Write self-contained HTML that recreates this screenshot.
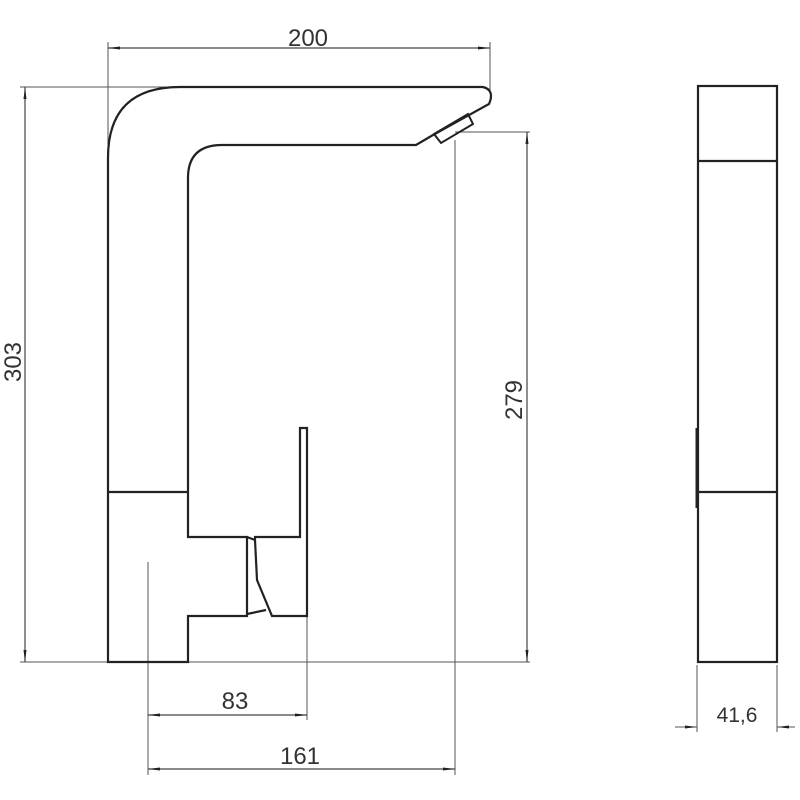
<!DOCTYPE html>
<html><head><meta charset="utf-8"><style>
html,body{margin:0;padding:0;background:#fff;}
svg{display:block;}
text{font-family:"Liberation Sans",sans-serif;font-size:24px;fill:#333;}
</style></head><body>
<svg width="800" height="800" viewBox="0 0 800 800" xmlns="http://www.w3.org/2000/svg">
<defs>
<marker id="a" markerWidth="12" markerHeight="6" refX="12" refY="3" orient="auto" markerUnits="userSpaceOnUse">
<path d="M0,1.5 L12,3 L0,4.5 Z" fill="#222"/></marker>
<marker id="b" markerWidth="12" markerHeight="6" refX="0" refY="3" orient="auto" markerUnits="userSpaceOnUse">
<path d="M12,1.5 L0,3 L12,4.5 Z" fill="#222"/></marker>
</defs>
<g stroke="#555" stroke-width="1" fill="none">
<line x1="108" y1="42" x2="108" y2="160"/>
<line x1="490" y1="42" x2="490" y2="92"/>
<line x1="20" y1="87" x2="180" y2="87"/>
<line x1="20" y1="662" x2="530" y2="662"/>
<line x1="455" y1="132" x2="530" y2="132"/>
<line x1="455" y1="140" x2="455" y2="775"/>
<line x1="148" y1="562" x2="148" y2="775"/>
<line x1="307" y1="616" x2="307" y2="720"/>
<line x1="697" y1="665" x2="697" y2="732"/>
<line x1="777" y1="665" x2="777" y2="732"/>
<line x1="675" y1="727" x2="697" y2="727" marker-end="url(#a)"/>
<line x1="795" y1="727" x2="777" y2="727" marker-end="url(#a)"/>
</g>
<g stroke="#444" stroke-width="1.2" fill="none">
<line x1="108" y1="48" x2="490" y2="48" marker-start="url(#b)" marker-end="url(#a)"/>
<line x1="25" y1="662" x2="25" y2="87" marker-start="url(#b)" marker-end="url(#a)"/>
<line x1="527" y1="662" x2="527" y2="132" marker-start="url(#b)" marker-end="url(#a)"/>
<line x1="148" y1="715" x2="307" y2="715" marker-start="url(#b)" marker-end="url(#a)"/>
<line x1="148" y1="769" x2="455" y2="769" marker-start="url(#b)" marker-end="url(#a)"/>
</g>
<g stroke="#222" stroke-width="2.2" fill="none" stroke-linejoin="miter">
<path d="M108,662 L108,158 Q108,87 180,87 L483,87 Q495,90 489,104 L433,135 L416,145 L222,145 Q188,145 188,178 L188,537 L247,537 L247,616 L188,616 L188,662 Z"/>
<line x1="108" y1="492" x2="188" y2="492"/>
<path d="M255,537 L300,537 L300,428 L307,428 L307,616 L272,616 L257,580 L255,540 Z"/>
<line x1="247" y1="614" x2="266" y2="610"/>
<line x1="247" y1="537" x2="255" y2="540"/>
<path d="M434,134 L441,143 L473,124 L468,114 Z" stroke-width="2"/>
<rect x="698" y="86" width="79" height="576"/>
<line x1="698" y1="161" x2="777" y2="161"/>
<line x1="698" y1="492" x2="777" y2="492"/>
<line x1="697" y1="428" x2="697" y2="508" stroke-width="3"/>
</g>
<text x="308" y="46" text-anchor="middle">200</text>
<text x="235" y="709" text-anchor="middle">83</text>
<text x="300" y="764" text-anchor="middle">161</text>
<text x="737" y="722" text-anchor="middle" style="font-size:21px">41,6</text>
<text transform="translate(21,362) rotate(-90)" text-anchor="middle">303</text>
<text transform="translate(522,400) rotate(-90)" text-anchor="middle">279</text>
</svg>
</body></html>
